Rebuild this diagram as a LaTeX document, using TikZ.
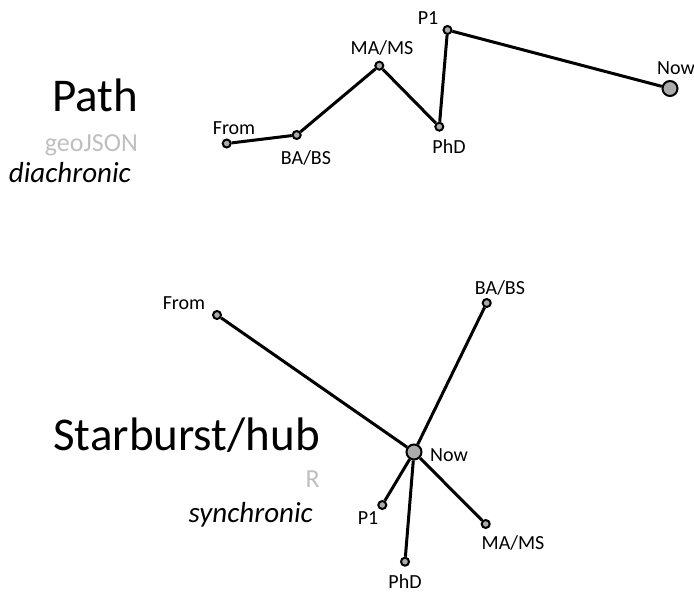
\documentclass[tikz,border=0pt]{standalone}
\usepackage{fontspec}
\setmainfont{Carlito}
\definecolor{dotfill}{HTML}{ABABAB}
\definecolor{lightgray}{HTML}{BFBFBF}
\begin{document}
\begin{tikzpicture}[x=1pt,y=-1pt,
  dot/.style={circle,draw=black,fill=dotfill,line width=2pt,inner sep=0pt,minimum size=8pt},
  bigdot/.style={circle,draw=black,fill=dotfill,line width=2pt,inner sep=0pt,minimum size=15pt},
  edge/.style={line width=3pt,black},
  lab/.style={font=\fontsize{20}{23}\selectfont,inner sep=0pt},
  title/.style={font=\fontsize{47}{50}\selectfont,inner sep=0pt,anchor=base east},
  sub/.style={font=\fontsize{26}{28}\selectfont,text=lightgray,inner sep=0pt,anchor=base east},
  kind/.style={font=\fontsize{29}{32}\selectfont\itshape,inner sep=0pt,anchor=base east}]
\useasboundingbox (0,0) rectangle (694,594);
% Path
\node[title] (pathT) at (138,112) {Path};
\node[sub] (pathS) at (138,151) {geoJSON};
\node[kind] (pathK) at (131,182) {diachronic};
\node[dot] (pf) at (226.7,143.5) {};
\node[dot] (pb) at (296.7,135) {};
\node[dot] (pm) at (379.3,65.7) {};
\node[dot] (pp) at (439.3,126.7) {};
\node[dot] (p1) at (447.5,30) {};
\node[bigdot] (pn) at (670,88.5) {};
\draw[edge] (pf) -- (pb) -- (pm) -- (pp) -- (p1) -- (pn);
\node[lab] (lpf) at (234,128) {From};
\node[lab] (lpb) at (306,158) {BA/BS};
\node[lab] (lpm) at (382,48) {MA/MS};
\node[lab] (lpp) at (449,147) {PhD};
\node[lab] (lp1) at (428,18.5) {P1};
\node[lab] (lpn) at (676,68) {Now};
% Starburst
\node[title] (starT) at (320,450) {Starburst/hub};
\node[sub] (starS) at (320,487) {R};
\node[kind] (starK) at (313,522) {synchronic};
\node[bigdot] (sn) at (414,452) {};
\node[dot] (sf) at (217,315) {};
\node[dot] (sb) at (486.7,303) {};
\node[dot] (s1) at (382.3,505) {};
\node[dot] (sp) at (405,561.7) {};
\node[dot] (sm) at (485.7,524) {};
\draw[edge] (sf) -- (sn);
\draw[edge] (sb) -- (sn);
\draw[edge] (s1) -- (sn);
\draw[edge] (sp) -- (sn);
\draw[edge] (sm) -- (sn);
\node[lab] (lsf) at (184,303) {From};
\node[lab] (lsb) at (500,288) {BA/BS};
\node[lab] (lsn) at (449,455) {Now};
\node[lab] (ls1) at (368,518) {P1};
\node[lab] (lsp) at (405,582) {PhD};
\node[lab] (lsm) at (513,543) {MA/MS};
\end{tikzpicture}
\end{document}
